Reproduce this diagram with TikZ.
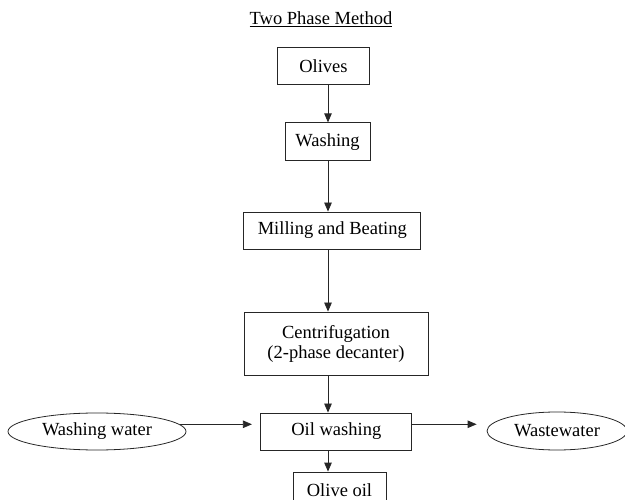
\documentclass[tikz,border=0pt]{standalone}
\usepackage{fontspec}
\setmainfont{Liberation Serif}
\usetikzlibrary{arrows.meta, positioning, shapes.geometric}

\begin{document}
\begin{tikzpicture}[
    x=1pt, y=-1pt,
    every node/.style={font=\fontsize{18.5}{20}\selectfont, align=center, inner sep=0pt},
    stage/.style={draw=black!85, line width=0.8pt},
    stream/.style={draw=black!85, ellipse, line width=0.8pt},
    arrow/.style={-{Triangle[length=9pt,width=7.5pt]}, draw=black!85, line width=0.8pt}
]
\useasboundingbox (0,0) rectangle (625,500);

% Nodes
\node[anchor=base] (title) at (321,25) {\underline{Two Phase Method}};
\node[stage, minimum width=92pt, minimum height=37pt] (olives) at (323.5,66.3) {Olives};
\node[stage, minimum width=85pt, minimum height=38pt] (washing) at (327.5,141.8) {Washing};
\node[stage, minimum width=177pt, minimum height=37pt] (milling) at (332.3,230.5) {Milling and Beating};
\node[stage, minimum width=184pt, minimum height=63pt] (centri) at (336,343.5) {Centrifugation\\(2-phase decanter)};
\node[stage, minimum width=151pt, minimum height=37pt] (oilwash) at (336.3,431.5) {Oil washing};
\node[stage, minimum width=93pt, minimum height=37pt] (oliveoil) at (339.5,490.5) {Olive oil};
\node[stream, minimum width=178pt, minimum height=37pt] (wwater) at (97,431.5) {Washing water};
\node[stream, minimum width=140pt, minimum height=38pt] (wastewater) at (557,431) {Wastewater};
\coordinate (spine) at (328,0);

% Edges
\draw[arrow] (olives.south -| spine) -- (washing.north -| spine);
\draw[arrow] (washing.south -| spine) -- (milling.north -| spine);
\draw[arrow] (milling.south -| spine) -- (centri.north -| spine);
\draw[arrow] (centri.south -| spine) -- (oilwash.north -| spine);
\draw[arrow] (oilwash.south -| spine) -- (oliveoil.north -| spine);
\draw[arrow, shorten >=8.5pt] (wwater.5) -- (wwater.5 -| oilwash.west);
\draw[arrow, shorten >=10pt] (oilwash.east |- wwater.5) -- (wastewater.west |- wwater.5);

\end{tikzpicture}
\end{document}
